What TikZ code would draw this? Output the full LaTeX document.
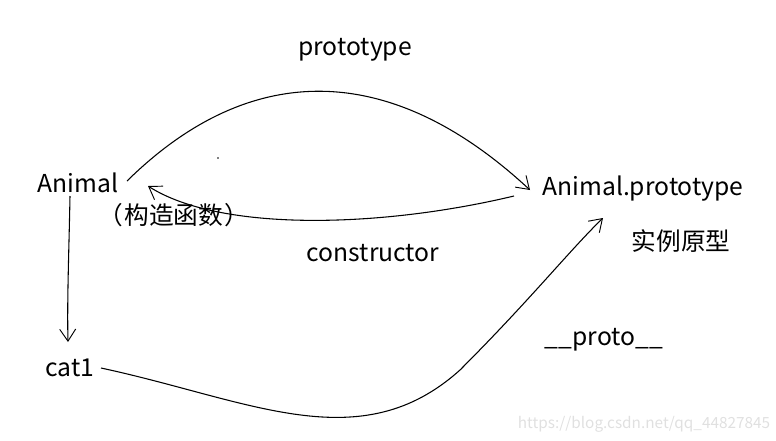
\documentclass[tikz,border=0pt]{standalone}
\usepackage{fontspec}
\setmainfont{Noto Sans CJK SC}
\usetikzlibrary{arrows.meta}
\begin{document}
\begin{tikzpicture}[x=0.75pt,y=-0.75pt,
  lbl/.style={inner sep=0pt,font=\fontsize{18.5}{22}\selectfont},
  conn/.style={draw=black,line width=0.8pt,-{Straight Barb[length=9pt,width=12pt,line width=0.7pt]}},
  wm/.style={inner sep=0pt,text=black!12,font=\fontsize{11.5}{13}\selectfont}]
\useasboundingbox (0,0) rectangle (776,440);
\node[lbl] (proto) at (355,50) {prototype};
\node[lbl] (animal) at (78,183) {Animal};
\node[lbl] (ctor) at (174,215) {（\hspace{1pt}构造函数\hspace{1pt}）};
\node[lbl] (ap) at (643,189) {Animal.prototype};
\node[lbl] (inst) at (681,241) {实例原型};
\node[lbl] (constr) at (373,253) {constructor};
\node[lbl] (cat) at (70,368) {cat1};
\node[lbl] (dp) at (604,340) {\_\_proto\_\_};
\node[wm] (wmark) at (644,424) {https://blog.csdn.net/qq\_44827845};
\coordinate (a1) at (127,181);
\coordinate (a2) at (530,190);
\coordinate (c1) at (514,196);
\coordinate (c2) at (148,186);
\coordinate (v1) at (70,196);
\coordinate (v2) at (68,342);
\coordinate (k1) at (101,368);
\coordinate (k2) at (603,218);
\draw[conn] (a1) .. controls (250,60) and (390,60) .. (a2);
\draw[conn] (c1) .. controls (380,228) and (220,232) .. (c2);
\draw[conn] (v1) .. controls (69,250) and (67,300) .. (v2);
\draw[conn] (k1) .. controls (250,400) and (360,460) .. (460,370) .. controls (530,300) and (570,250) .. (k2);
\fill (218,158) circle (0.8);
\end{tikzpicture}
\end{document}
